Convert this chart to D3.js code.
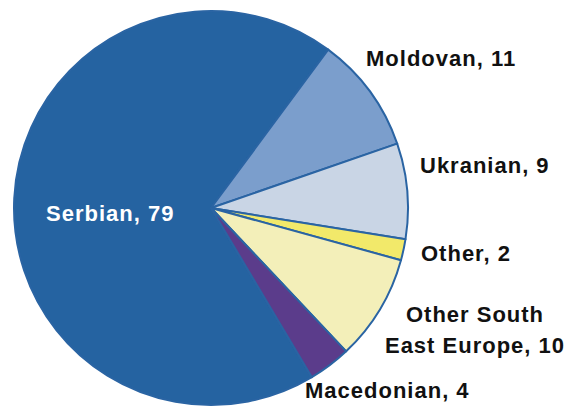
<!DOCTYPE html>
<html>
<head>
<meta charset="utf-8">
<script src="https://cdn.jsdelivr.net/npm/d3@7"></script>
<style>
  html, body { margin: 0; padding: 0; background: #fff; }
  svg { display: block; }
</style>
</head>
<body>
<svg id="chart" width="568" height="408"></svg>
<script>
const categories = ["Serbian", "Moldovan", "Ukranian", "Other", "Other South East Europe", "Macedonian"];
const values = [79, 11, 9, 2, 10, 4];
const colors = ["#2563a1", "#7b9ecc", "#c9d5e5", "#f2e96a", "#f3efb9", "#5b3c8b"];
const labelLines = [["Serbian, 79"], ["Moldovan, 11"], ["Ukranian, 9"], ["Other, 2"], ["Other South", "East Europe, 10"], ["Macedonian, 4"]];
const labelPos = [
  {x: 46, y: 221, anchor: "start", color: "#ffffff"},
  {x: 366, y: 66, anchor: "start", color: "#111111"},
  {x: 420, y: 173, anchor: "start", color: "#111111"},
  {x: 421, y: 261, anchor: "start", color: "#111111"},
  {x: 475, y: 322, anchor: "middle", color: "#111111"},
  {x: 305, y: 398, anchor: "start", color: "#111111"}
];

const svg = d3.select("#chart");
const cx = 211, cy = 208, r = 197;
const startDeg = 149.2;

const pie = d3.pie().sort(null).value(d => d)
  .startAngle(startDeg * Math.PI / 180)
  .endAngle((startDeg + 360) * Math.PI / 180);
const arc = d3.arc().innerRadius(0).outerRadius(r);

const g = svg.append("g").attr("transform", `translate(${cx},${cy})`);
g.selectAll("path")
  .data(pie(values))
  .join("path")
  .attr("d", arc)
  .attr("fill", (d, i) => colors[i])
  .attr("stroke", "#2a64a3")
  .attr("stroke-width", 2)
  .attr("stroke-linejoin", "round");

const labels = svg.append("g")
  .attr("font-family", "'Liberation Sans', Arial, sans-serif")
  .attr("font-weight", "bold")
  .attr("font-size", 22)
  .attr("letter-spacing", "1px");

labelLines.forEach((lines, i) => {
  const p = labelPos[i];
  const t = labels.append("text")
    .attr("x", p.x).attr("y", p.y)
    .attr("text-anchor", p.anchor)
    .attr("fill", p.color);
  lines.forEach((ln, j) => {
    t.append("tspan").attr("x", p.x).attr("dy", j === 0 ? 0 : 31).text(ln);
  });
});
</script>
</body>
</html>
